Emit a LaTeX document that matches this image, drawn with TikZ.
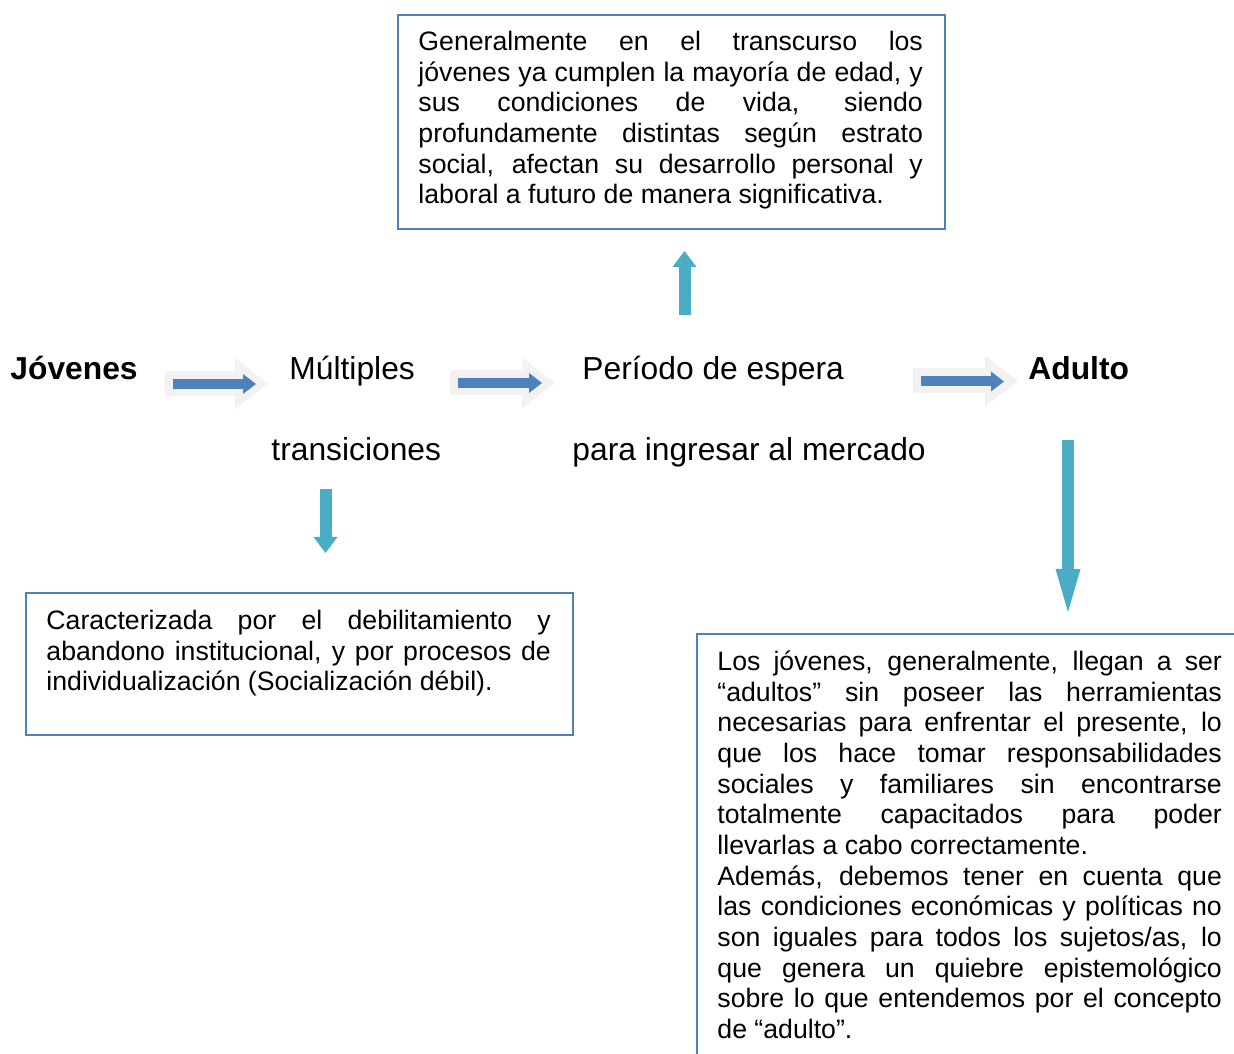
\documentclass[tikz,border=0pt]{standalone}
\usepackage{fontspec}
\setmainfont{Liberation Sans}
\usepackage{xcolor}
\usepackage{tikz}
\usetikzlibrary{arrows.meta}
\hyphenpenalty=10000
\exhyphenpenalty=10000
\definecolor{boxBlue}{HTML}{4F81BD}
\definecolor{arrowBlue}{HTML}{4F81BD}
\definecolor{arrowTeal}{HTML}{4BACC6}
\definecolor{arrowGlow}{HTML}{F2F2F2}
\tikzstyle{tsLabel} = [ 
    text=black, 
    font=\fontsize{14.3}{17}\selectfont,
    anchor=base west,
    inner sep=0pt
]
\tikzstyle{tsLabelBold} = [ 
    tsLabel, 
    font=\fontsize{14.3}{17}\selectfont\bfseries
]
\tikzstyle{tsBody} = [ 
    text=black, 
    font=\fontsize{12}{13.8}\selectfont,
    anchor=base west,
    inner sep=0pt,
    text width=227pt,
    align=justify
]
\tikzstyle{tsBox} = [ 
    rectangle,
    draw=boxBlue,
    line width=0.9pt,
    anchor=north west,
    minimum width=246.15pt,
    inner sep=0pt
]
\tikzstyle{tsGlowArrow} = [ 
    draw=arrowGlow,
    line width=11.25pt,
    -{Triangle[length=14.85pt, width=22.95pt, line width=0pt]}
]
\tikzstyle{tsBlueArrow} = [ 
    draw=arrowBlue,
    line width=4.5pt,
    -{Triangle[length=5.85pt, width=9pt, line width=0pt]}
]
\tikzstyle{tsTealArrow} = [ 
    draw=arrowTeal,
    line width=5.4pt,
    -{Triangle[length=7.2pt, width=10.8pt, line width=0pt]}
]
\begin{document}
\begin{tikzpicture}[x=0.45pt, y=-0.45pt]

    \useasboundingbox (0,0) rectangle (1234,1054);
    \clip (0,0) rectangle (1234,1054);

    % row of words
    \node[tsLabelBold] (jovenes) at (10,379.5) {Jóvenes};
    \node[tsLabel] (multiples) at (289,379.5) {Múltiples};
    \node[tsLabel] (transiciones) at (271,460.5) {transiciones};
    \node[tsLabel] (periodo) at (582,379.5) {Período de espera};
    \node[tsLabel] (mercado) at (572,460.5) {para ingresar al mercado};
    \node[tsLabelBold] (adulto) at (1028,379.5) {Adulto};

    % boxes
    \node[ tsBox,
            minimum height=96.3pt] (topbox) at (397,14) {};
    \node[ tsBody] (toptext) at (418,50.5) {Generalmente en el transcurso los\linebreak
            jóvenes ya cumplen la mayoría de edad, y\linebreak
            sus condiciones de vida, siendo\linebreak
            profundamente distintas según estrato\linebreak
            social, afectan su desarrollo personal y\linebreak
            laboral a futuro de manera significativa.};

    \node[ tsBox,
            minimum height=63.9pt] (leftbox) at (25,592) {};
    \node[ tsBody] (lefttext) at (46,629.5) {Caracterizada por el debilitamiento y\linebreak
            abandono institucional, y por procesos de\linebreak
            individualización (Socialización débil).};

    \node[ tsBox,
            minimum height=220pt] (rightbox) at (696,633) {};
    \node[ tsBody] (righttext) at (717,670.5) {Los jóvenes, generalmente, llegan a ser\linebreak
            “adultos” sin poseer las herramientas\linebreak
            necesarias para enfrentar el presente, lo\linebreak
            que los hace tomar responsabilidades\linebreak
            sociales y familiares sin encontrarse\linebreak
            totalmente capacitados para poder\linebreak
            llevarlas a cabo correctamente.\par
            Además, debemos tener en cuenta que\linebreak
            las condiciones económicas y políticas no\linebreak
            son iguales para todos los sujetos/as, lo\linebreak
            que genera un quiebre epistemológico\linebreak
            sobre lo que entendemos por el concepto\linebreak
            de “adulto”.};

    % arrow ends
    \coordinate (g1s) at (165,383.5);
    \coordinate (g1e) at (268,383.5);
    \coordinate (b1s) at (173,384);
    \coordinate (b1e) at (256,384);
    \coordinate (g2s) at (450,383);
    \coordinate (g2e) at (555,383);
    \coordinate (b2s) at (458,383);
    \coordinate (b2e) at (542,383);
    \coordinate (g3s) at (913,381);
    \coordinate (g3e) at (1018,381);
    \coordinate (b3s) at (921,381.5);
    \coordinate (b3e) at (1004,381.5);
    \coordinate (ups) at (684.5,315);
    \coordinate (upe) at (684.5,251);
    \coordinate (lds) at (325.5,489);
    \coordinate (lde) at (325.5,553);
    \coordinate (rds) at (1068,440);
    \coordinate (rde) at (1068,612);

    \draw[tsGlowArrow] (g1s) -- (g1e);
    \draw[tsBlueArrow] (b1s) -- (b1e);
    \draw[tsGlowArrow] (g2s) -- (g2e);
    \draw[tsBlueArrow] (b2s) -- (b2e);
    \draw[tsGlowArrow] (g3s) -- (g3e);
    \draw[tsBlueArrow] (b3s) -- (b3e);

    \draw[tsTealArrow] (ups) -- (upe);
    \draw[tsTealArrow] (lds) -- (lde);
    \draw[ tsTealArrow,
            -{Triangle[length=19.35pt, width=11.25pt, line width=0pt]}] (rds) -- (rde);

\end{tikzpicture}
\end{document}
